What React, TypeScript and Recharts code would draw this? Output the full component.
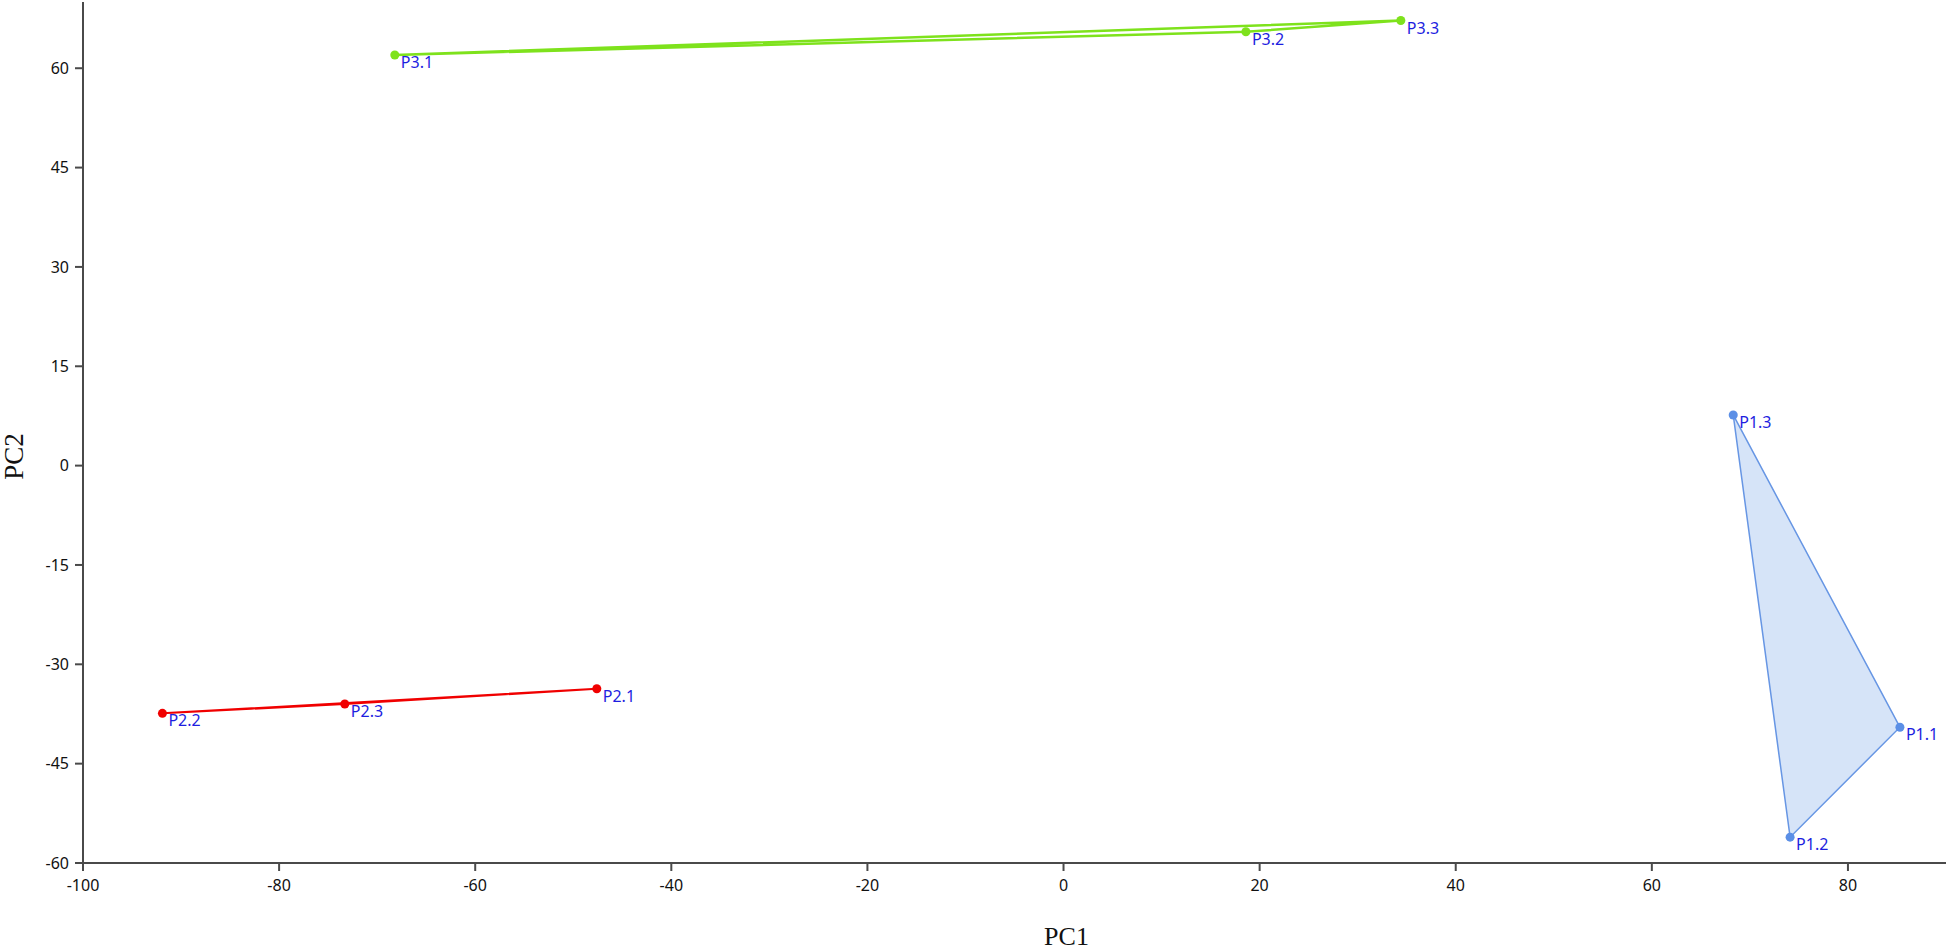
import React from 'react';
import { ScatterChart, Scatter, XAxis, YAxis, ZAxis, LabelList, Label } from 'recharts';

const xTicks = [-100, -80, -60, -40, -20, 0, 20, 40, 60, 80];
const yTicks = [-60, -45, -30, -15, 0, 15, 30, 45, 60];

const group1 = [
  { name: 'P1.3', pc1: 68.3, pc2: 7.65 },
  { name: 'P1.1', pc1: 85.3, pc2: -39.5 },
  { name: 'P1.2', pc1: 74.1, pc2: -56.1 },
];
const group2 = [
  { name: 'P2.2', pc1: -91.9, pc2: -37.4 },
  { name: 'P2.3', pc1: -73.3, pc2: -36.0 },
  { name: 'P2.1', pc1: -47.6, pc2: -33.7 },
];
const group3 = [
  { name: 'P3.1', pc1: -68.2, pc2: 62.0 },
  { name: 'P3.2', pc1: 18.6, pc2: 65.5 },
  { name: 'P3.3', pc1: 34.4, pc2: 67.2 },
];

const AXIS_COLOR = '#4a4a4a';

const PointLabel = (props: any) => {
  const vb = props.viewBox || {};
  const x = vb.x ?? props.x ?? 0;
  const y = vb.y ?? props.y ?? 0;
  const w = vb.width ?? props.width ?? 0;
  const h = vb.height ?? props.height ?? 0;
  const cx = x + w / 2;
  const cy = y + h / 2;
  return (
    <text x={cx + 6} y={cy + 13} fill="#1e1ee0" fontFamily="Noto Sans" fontSize={16}>
      {props.value}
    </text>
  );
};

const XTitle = (p: any) => {
  const vb = p.viewBox;
  return (
    <text x={vb.x + vb.width / 2 + 52} y={vb.y + 82} textAnchor="middle" fontFamily="Liberation Serif" fontSize={26} fill="#111">
      PC1
    </text>
  );
};

const YTitle = (p: any) => {
  const vb = p.viewBox;
  const x = vb.x;
  const y = vb.y + vb.height / 2 + 24;
  return (
    <text x={x} y={y} transform={`rotate(-90, ${x}, ${y})`} textAnchor="middle" fontFamily="Liberation Serif" fontSize={27} fill="#111">
      PC2
    </text>
  );
};

export default function App() {
  return (
    <div style={{ position: 'absolute', left: 0, top: 0, background: '#fff' }}>
      <ScatterChart width={1950} height={951} margin={{ top: 2, right: 4, left: 23, bottom: 28 }}>
        <XAxis
          type="number"
          dataKey="pc1"
          domain={[-100, 90]}
          ticks={xTicks}
          allowDataOverflow
          height={60}
          tickSize={8}
          tickMargin={9}
          axisLine={{ stroke: AXIS_COLOR, strokeWidth: 2 }}
          tickLine={{ stroke: AXIS_COLOR, strokeWidth: 2 }}
          tick={{ fill: '#111', fontSize: 16, fontFamily: 'Noto Sans' }}
        >
          <Label content={XTitle} />
        </XAxis>
        <YAxis
          type="number"
          dataKey="pc2"
          domain={[-60, 70]}
          ticks={yTicks}
          allowDataOverflow
          width={60}
          tickSize={8}
          tickMargin={6}
          axisLine={{ stroke: AXIS_COLOR, strokeWidth: 2 }}
          tickLine={{ stroke: AXIS_COLOR, strokeWidth: 2 }}
          tick={{ fill: '#111', fontSize: 16, fontFamily: 'Noto Sans' }}
        >
          <Label content={YTitle} />
        </YAxis>
        <ZAxis range={[80, 80]} />
        <Scatter
          data={group1}
          fill="#5b8fe6"
          line={{ stroke: '#6796e4', strokeWidth: 1.5, fill: '#d6e4f8' }}
          lineType="joint"
          lineJointType="linearClosed"
          isAnimationActive={false}
        >
          <LabelList dataKey="name" content={PointLabel} />
        </Scatter>
        <Scatter
          data={group2}
          fill="#f00000"
          line={{ stroke: '#f00000', strokeWidth: 2, fill: 'none' }}
          lineType="joint"
          lineJointType="linearClosed"
          isAnimationActive={false}
        >
          <LabelList dataKey="name" content={PointLabel} />
        </Scatter>
        <Scatter
          data={group3}
          fill="#7ee21c"
          line={{ stroke: '#7ee21c', strokeWidth: 2.5, fill: 'none' }}
          lineType="joint"
          lineJointType="linearClosed"
          isAnimationActive={false}
        >
          <LabelList dataKey="name" content={PointLabel} />
        </Scatter>
      </ScatterChart>
    </div>
  );
}
